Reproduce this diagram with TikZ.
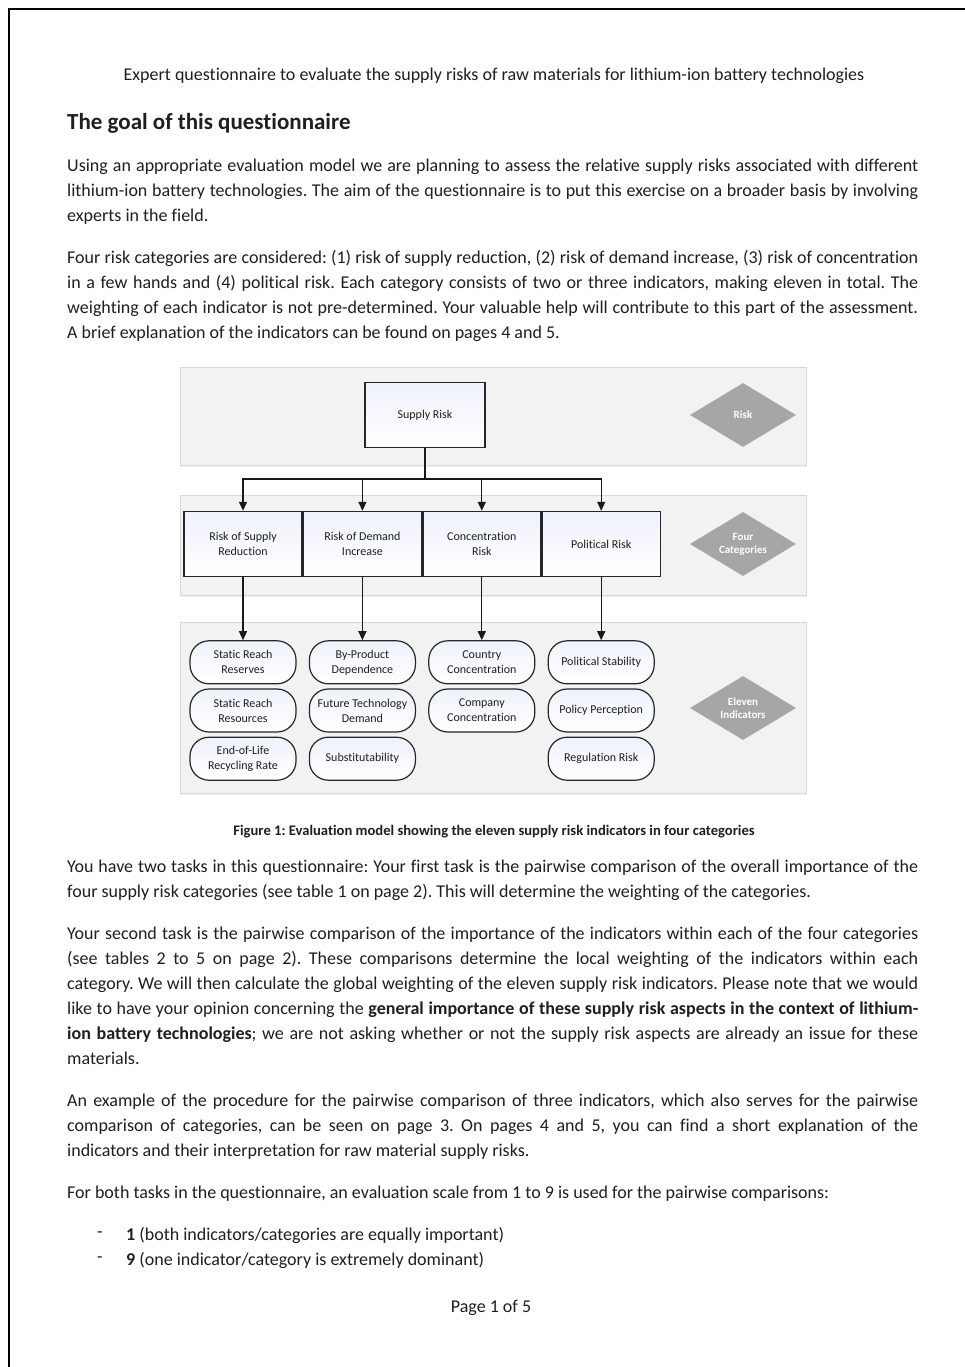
\documentclass[tikz,border=0pt]{standalone}
\usepackage{fontspec}
\setmainfont{Carlito}[Ligatures=NoCommon]
\usepackage{tikz}
\usetikzlibrary{arrows.meta,positioning,shapes.geometric,shadows}
\usepackage{xcolor}
\definecolor{bandgray}{RGB}{242,242,242}
\definecolor{bandline}{RGB}{217,217,217}
\definecolor{diagray}{RGB}{166,166,166}
\definecolor{boxtint}{RGB}{238,242,251}
\frenchspacing

\begin{document}
\begin{tikzpicture}[x=1pt,y=-1pt,>={Triangle[length=9pt,width=8pt]}, every node/.style={font=\fontsize{18}{25}\selectfont, inner sep=0pt, text=black!88}]
\tikzstyle{para}=[anchor=north west, text width=851pt, align=justify]
\tikzstyle{band}=[draw=bandline, fill=bandgray, minimum width=626pt, drop shadow={opacity=0.12,shadow xshift=1pt,shadow yshift=-1.5pt}]
\tikzstyle{box}=[draw=black!85, line width=1.4pt, top color=boxtint, bottom color=white, align=center, minimum width=118pt, minimum height=65pt, font=\fontsize{12}{15}\selectfont]
\tikzstyle{ind}=[draw=black!85, line width=1.2pt, rounded corners=19pt, top color=boxtint, bottom color=white, align=center, minimum width=106pt, minimum height=43pt, font=\fontsize{12}{15}\selectfont]
\tikzstyle{level}=[diamond, fill=diagray, text=white, font=\fontsize{11}{13}\selectfont\bfseries, align=center, minimum width=106pt, minimum height=64pt, aspect=1.6]
\tikzstyle{link}=[line width=1.3pt, black!90]

\fill[white] (0,0) rectangle (965,1367);
\useasboundingbox (0,0) rectangle (965,1367);
\draw[line width=2.6pt] (9,1367) -- (9,9) -- (965,9);

% header and first paragraphs
\node[font=\fontsize{18}{22}\selectfont] (title) at (494,76) {Expert questionnaire to evaluate the supply risks of raw materials for lithium-ion battery technologies};
\node[anchor=west, font=\fontsize{23}{27}\selectfont\bfseries] (goal) at (67,123) {The goal of this questionnaire};
\node[para] (aim) at (67,153.4) {\strut Using an appropriate evaluation model we are planning to assess the relative supply risks associated with different\linebreak
lithium-ion battery technologies. The aim of the questionnaire is to put this exercise on a broader basis by involving\linebreak
experts in the field.};
\node[para] (cats) at (67,245.4) {\strut Four risk categories are considered: (1) risk of supply reduction, (2) risk of demand increase, (3) risk of concentration\linebreak
in a few hands and (4) political risk. Each category consists of two or three indicators, making eleven in total. The\linebreak
weighting of each indicator is not pre-determined. Your valuable help will contribute to this part of the assessment.\linebreak
A brief explanation of the indicators can be found on pages 4 and 5.};

% figure 1: the three levels
\node[band, minimum height=98pt] (bandrisk) at (493,416) {};
\node[band, minimum height=100pt] (bandcat) at (493,545) {};
\node[band, minimum height=171pt] (bandind) at (493,708) {};

\node[box, minimum width=120pt] (sr) at (425,415) {Supply Risk};
\node[level] (lvrisk) at (743,415) {Risk};

\node[box] (rsr) at (243,544) {Risk of Supply\\Reduction};
\node[box, right=0pt of rsr] (rdi) {Risk of Demand\\Increase};
\node[box, right=0pt of rdi] (cr) {Concentration\\Risk};
\node[box, right=0pt of cr] (pr) {Political Risk};
\node[level] (lvcat) at (743,544) {Four\\Categories};

\node[ind, below=63pt of rsr] (srres) {Static Reach\\Reserves};
\node[ind, below=4pt of srres] (srrsc) {Static Reach\\Resources};
\node[ind, below=4pt of srrsc] (eol) {End-of-Life\\Recycling Rate};
\node[ind, below=63pt of rdi] (bpd) {By-Product\\Dependence};
\node[ind, below=4pt of bpd] (ftd) {Future Technology\\Demand};
\node[ind, below=4pt of ftd] (sub) {Substitutability};
\node[ind, below=63pt of cr] (cc) {Country\\Concentration};
\node[ind, below=4pt of cc] (coc) {Company\\Concentration};
\node[ind, below=63pt of pr] (ps) {Political Stability};
\node[ind, below=4pt of ps] (pp) {Policy Perception};
\node[ind, below=4pt of pp] (rr) {Regulation Risk};
\node[level] (lvind) at (743,708) {Eleven\\Indicators};

\coordinate (bus) at (425,479);
\draw[link] (sr) -- (bus);
\foreach \c in {rsr,rdi,cr,pr} \draw[link,->] (bus) -| (\c.north);
\foreach \c/\i in {rsr/srres,rdi/bpd,cr/cc,pr/ps} \draw[link,->] (\c) -- (\i);

\node[font=\fontsize{14.6}{17}\selectfont\bfseries] (caption) at (494,832) {Figure 1: Evaluation model showing the eleven supply risk indicators in four categories};

% tasks
\node[para] (task1) at (67,854.4) {\strut You have two tasks in this questionnaire: Your first task is the pairwise comparison of the overall importance of the\linebreak
four supply risk categories (see table 1 on page 2). This will determine the weighting of the categories.};
\node[para] (task2) at (67,921.4) {\strut Your second task is the pairwise comparison of the importance of the indicators within each of the four categories\linebreak
(see tables 2 to 5 on page 2). These comparisons determine the local weighting of the indicators within each\linebreak
category. We will then calculate the global weighting of the eleven supply risk indicators. Please note that we would\linebreak
like to have your opinion concerning the \textbf{general importance of these supply risk aspects in the context of lithium-}\linebreak
\textbf{ion battery technologies}; we are not asking whether or not the supply risk aspects are already an issue for these\linebreak
materials.};
\node[para] (example) at (67,1088.4) {\strut An example of the procedure for the pairwise comparison of three indicators, which also serves for the pairwise\linebreak
comparison of categories, can be seen on page 3. On pages 4 and 5, you can find a short explanation of the\linebreak
indicators and their interpretation for raw material supply risks.};
\node[para] (scale) at (67,1180.4) {\strut For both tasks in the questionnaire, an evaluation scale from 1 to 9 is used for the pairwise comparisons:};

\node[anchor=west] (dash1) at (97,1235) {-};
\node[anchor=west] (item1) at (126,1235) {\textbf{1} (both indicators/categories are equally important)};
\node[anchor=west] (dash2) at (97,1260) {-};
\node[anchor=west] (item2) at (126,1260) {\textbf{9} (one indicator/category is extremely dominant)};

\node (pagenum) at (491,1308) {Page 1 of 5};
\end{tikzpicture}
\end{document}
